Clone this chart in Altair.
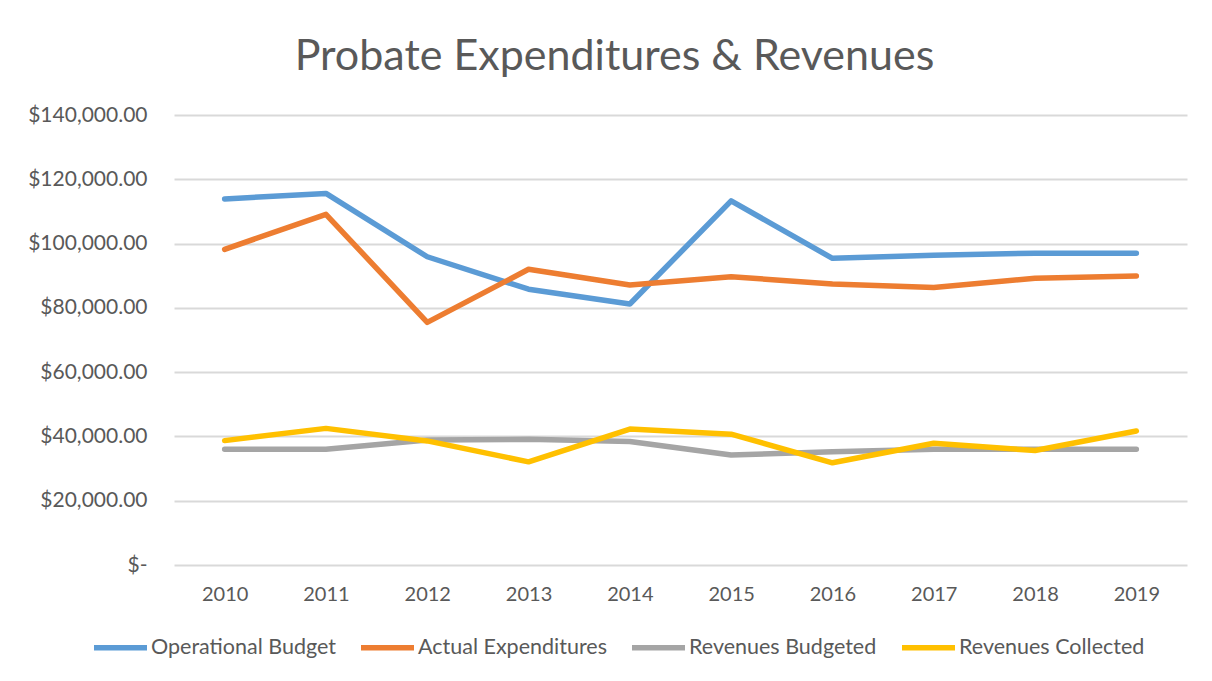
import altair as alt
import pandas as pd

years = [str(y) for y in range(2010, 2020)]
series_names = ["Operational Budget", "Actual Expenditures", "Revenues Budgeted", "Revenues Collected"]
operational_budget = [113900, 115600, 95900, 85800, 81200, 113300, 95400, 96400, 97000, 97000]
actual_expenditures = [98200, 109100, 75500, 92000, 87100, 89700, 87400, 86300, 89200, 89900]
revenues_budgeted = [36000, 36000, 38900, 39100, 38400, 34200, 35200, 36000, 36000, 36000]
revenues_collected = [38700, 42500, 38600, 32100, 42300, 40700, 31800, 37900, 35600, 41700]
colors = ["#5B9BD5", "#ED7D31", "#A5A5A5", "#FFC000"]
y_ticks = [0, 20000, 40000, 60000, 80000, 100000, 120000, 140000]

rows = []
for name, vals in zip(series_names, [operational_budget, actual_expenditures,
                                     revenues_budgeted, revenues_collected]):
    for yr, v in zip(years, vals):
        rows.append({"Year": yr, "Series": name, "Value": v})
df = pd.DataFrame(rows)

TEXT = "#595959"

chart = alt.Chart(df).mark_line(strokeWidth=5.5, strokeCap="round", strokeJoin="round").encode(
    x=alt.X("Year:N", sort=years,
            scale=alt.Scale(paddingInner=0, paddingOuter=0),
            axis=alt.Axis(title=None, labelAngle=0, domain=False, ticks=False, grid=False,
                          labelFontSize=20, labelColor=TEXT, labelPadding=19)),
    y=alt.Y("Value:Q", scale=alt.Scale(domain=[0, 140000], nice=False),
            axis=alt.Axis(title=None, values=y_ticks, domain=False, ticks=False,
                          gridColor="#D9D9D9", gridWidth=1.8,
                          labelFontSize=21, labelColor=TEXT, labelPadding=27,
                          labelExpr="datum.value == 0 ? '$-\u00a0\u00a0' : '$' + format(datum.value, ',.2f')")),
    color=alt.Color("Series:N", sort=series_names,
                    scale=alt.Scale(domain=series_names, range=colors),
                    legend=alt.Legend(title=None, orient="none", direction="horizontal",
                                      legendX=-83, legendY=503, padding=0,
                                      symbolType="stroke", symbolSize=2809, symbolStrokeWidth=5.5,
                                      labelFontSize=21.5, labelColor=TEXT, labelOffset=1,
                                      labelLimit=0, columnPadding=14)),
).properties(
    width=1013,
    height=450,
    title=alt.Title("Probate Expenditures & Revenues", fontSize=43, color=TEXT,
                    font="Lato", fontWeight="normal", anchor="middle", frame="group",
                    dx=-66, offset=25),
    padding={"left": 166, "top": 107, "right": 17, "bottom": 108},
    autosize=alt.AutoSizeParams(type="none"),
).configure(font="Lato").configure_view(stroke=None)

chart.save("out.html", embed_options={"renderer": "svg", "actions": False})
